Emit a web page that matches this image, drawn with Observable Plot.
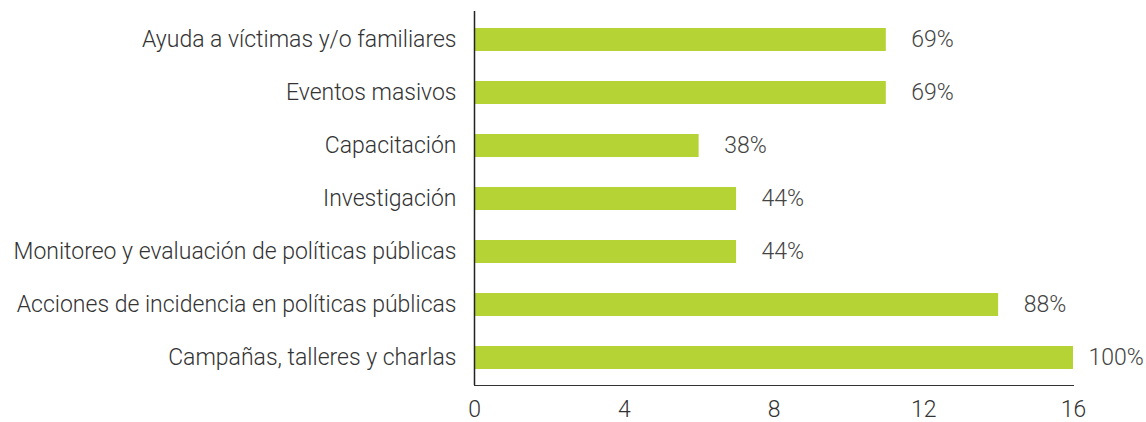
<!DOCTYPE html>
<html>
<head>
<meta charset="utf-8">
<script src="https://cdn.jsdelivr.net/npm/d3@7"></script>
<script src="https://cdn.jsdelivr.net/npm/@observablehq/plot@0.6"></script>
<style>
  html, body { margin: 0; padding: 0; background: #fff; }
  #chart svg { font-family: Roboto, "Noto Sans", sans-serif; font-weight: 300; }
</style>
</head>
<body>
<div id="chart"></div>
<script>
const categories = [
  "Ayuda a víctimas y/o familiares",
  "Eventos masivos",
  "Capacitación",
  "Investigación",
  "Monitoreo y evaluación de políticas públicas",
  "Acciones de incidencia en políticas públicas",
  "Campañas, talleres y charlas"
];
const counts = [11, 11, 6, 7, 7, 14, 16];
const percentLabels = ["69%", "69%", "38%", "44%", "44%", "88%", "100%"];
const xTicks = [0, 4, 8, 12, 16];

const data = categories.map((c, i) => ({category: c, value: counts[i], label: percentLabels[i]}));
const inner = data.filter(d => d.value < 16);
const full = data.filter(d => d.value >= 16);

const chart = Plot.plot({
  width: 1146,
  height: 422,
  marginLeft: 474,
  marginRight: 73,
  marginTop: 11,
  marginBottom: 37,
  style: {fontSize: "23px", fontFamily: "Roboto, 'Noto Sans', sans-serif", color: "#333", background: "#fff"},
  x: {domain: [0, 16], ticks: xTicks, tickSize: 0, tickPadding: 15, line: true, label: null},
  y: {domain: categories, paddingInner: 0.57, paddingOuter: 0.285, tickSize: 0, tickPadding: 18, label: null},
  marks: [
    Plot.barX(data, {x: "value", y: "category", fill: "#b6d335", insetLeft: 1}),
    Plot.text(inner, {x: "value", y: "category", text: "label", textAnchor: "start", dx: 25, fill: "#444", fontSize: 23}),
    Plot.text(full, {x: "value", y: "category", text: "label", textAnchor: "start", dx: 15, fill: "#444", fontSize: 23}),
    Plot.ruleX([0], {stroke: "#222", strokeWidth: 1.5})
  ]
});
document.getElementById("chart").appendChild(chart);
</script>
</body>
</html>
